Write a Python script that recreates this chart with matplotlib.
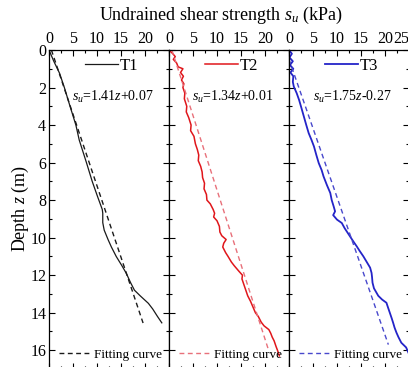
import matplotlib
matplotlib.use('Agg')
import matplotlib.pyplot as plt
import matplotlib.ticker as ticker
from matplotlib.lines import Line2D

plt.rcParams['font.family'] = ['Liberation Serif', 'DejaVu Serif']
plt.rcParams['mathtext.fontset'] = 'custom'
plt.rcParams['mathtext.rm'] = 'Liberation Serif'
plt.rcParams['mathtext.it'] = 'Liberation Serif:italic'

# measured profiles, depth z (m) vs undrained shear strength su (kPa)
t1_z = [0.0, 0.6, 1.24, 2.0, 2.93, 4.0, 4.8, 6.0, 7.0, 7.8, 8.5, 8.7, 9.2, 9.6, 10.1,
        10.5, 11.0, 11.5, 11.9, 12.4, 12.8, 13.1, 13.5, 13.8, 14.2, 14.54]
t1_su = [0.0, 1.0, 2.2, 3.2, 4.3, 5.6, 6.3, 7.8, 9.0, 10.1, 11.1, 11.2, 11.2, 11.5, 12.3,
         13.0, 14.0, 15.2, 16.1, 17.0, 17.8, 19.0, 20.7, 21.6, 22.6, 23.5]

t2_z = [0.0, 0.2, 0.35, 0.5, 0.7, 0.9, 1.0, 1.2, 1.4, 1.6, 1.8, 2.0, 2.3, 2.6, 3.0, 3.3,
        3.6, 4.0, 4.3, 4.6, 5.0, 5.3, 5.6, 5.9, 6.2, 6.5, 6.8, 7.1, 7.4, 7.7, 8.0, 8.2,
        8.5, 8.7, 8.9, 9.1, 9.4, 9.7, 9.9, 10.1, 10.3, 10.5, 10.8, 11.0, 11.3, 11.5, 11.8,
        12.0, 12.2, 12.5, 12.8, 13.1, 13.4, 13.7, 14.0, 14.2, 14.5, 14.7, 14.9, 15.1,
        15.3, 15.5, 15.8, 16.0, 16.3]
t2_su = [0.0, 0.8, 1.3, 0.9, 1.6, 1.9, 2.9, 2.4, 3.0, 2.6, 3.1, 2.9, 3.3, 3.2, 3.7, 3.6,
         4.1, 4.6, 4.5, 5.2, 5.5, 5.9, 6.2, 6.1, 6.6, 6.9, 7.0, 7.4, 7.3, 7.8, 7.9, 8.6,
         9.2, 9.5, 9.3, 10.0, 10.5, 10.6, 11.0, 11.9, 11.4, 11.2, 11.8, 12.3, 13.0, 13.6,
         14.6, 15.3, 15.2, 15.6, 16.0, 16.4, 17.0, 17.5, 18.0, 18.6, 19.2, 19.8, 20.8,
         21.2, 21.5, 21.9, 22.3, 22.6, 23.0]

t3_z = [0.0, 0.2, 0.4, 0.6, 0.8, 1.0, 1.2, 1.4, 1.7, 1.95, 2.3, 2.66, 3.1, 3.55, 4.0,
        4.43, 4.8, 5.14, 5.6, 6.03, 6.4, 6.74, 7.2, 7.62, 8.0, 8.33, 8.6, 8.8, 9.04, 9.22,
        9.5, 9.93, 10.2, 10.46, 10.7, 11.0, 11.3, 11.6, 11.88, 12.1, 12.4, 12.7, 13.1,
        13.3, 13.47, 13.7, 14.0, 14.3, 14.54, 14.8, 15.07, 15.3, 15.6, 15.85, 16.2]
t3_su = [0.0, 0.6, 0.1, 0.8, 0.2, 0.9, 0.3, 0.9, 0.8, 1.0, 1.6, 2.1, 2.6, 3.1, 3.6,
         4.1, 4.7, 5.2, 5.7, 6.2, 6.8, 7.2, 7.9, 8.6, 8.9, 9.3, 9.6, 9.2, 10.0, 11.0,
         11.6, 12.7, 13.4, 14.1, 14.7, 15.5, 16.2, 16.9, 17.2, 17.3, 17.4, 17.7, 18.6,
         19.4, 20.3, 20.6, 21.0, 21.4, 21.7, 22.0, 22.4, 22.8, 23.4, 24.4, 25.0]

# fitting lines as drawn (end points)
fit_z = [[0.0, 14.55], [0.0, 15.96], [0.5, 15.7]]
fit_su = [[0.5, 19.6], [0.6, 20.7], [0.0, 20.7]]

names = ['T1', 'T2', 'T3']
equations = ['$s_u$=1.41$z$+0.07', '$s_u$=1.34$z$+0.01', '$s_u$=1.75$z$-0.27']
line_colors = ['#1a1a1a', '#e0161b', '#2424c8']
fit_colors = ['#1a1a1a', '#e8707a', '#4848cc']
line_widths = [0.9, 1.1, 1.3]
profiles_z = [t1_z, t2_z, t3_z]
profiles_su = [t1_su, t2_su, t3_su]

W, H = 408, 367
fig = plt.figure(figsize=(W / 100, H / 100), dpi=100)

left0 = 49
pw = 120
top = 50
bot = -2
dash = (0, (3.5, 2.5))

for i in range(3):
    ax = fig.add_axes([(left0 + i * pw) / W, bot / H, pw / W, (H - top - bot) / H])
    ax.plot(profiles_su[i], profiles_z[i], color=line_colors[i], lw=line_widths[i])
    ax.plot(fit_su[i], fit_z[i], color=fit_colors[i], lw=1.0, ls=dash)
    ax.set_xlim(0, 25)
    ax.set_ylim(17, 0)

    ax.xaxis.set_major_locator(ticker.MultipleLocator(5))
    ax.xaxis.set_minor_locator(ticker.MultipleLocator(2.5))
    ax.yaxis.set_major_locator(ticker.MultipleLocator(2))
    ax.yaxis.set_minor_locator(ticker.MultipleLocator(1))
    ax.tick_params(which='both', direction='in', top=True, bottom=True, left=True, right=True,
                   labeltop=True, labelbottom=False, labelleft=(i == 0), labelsize=11.5,
                   width=0.8, pad=2)
    ax.tick_params(which='major', length=4)
    ax.tick_params(which='minor', length=2)
    for sp in ax.spines.values():
        sp.set_linewidth(0.9)

    if i < 2:
        ax.set_xticks([0, 5, 10, 15, 20])
    else:
        ax.set_xticks([0, 5, 10, 15, 20, 25])
        ax.set_xticklabels(['0', '5', '10', '15', '20', '25'])
        ax.get_xticklabels()[-1].set_ha('right')

    h1 = Line2D([], [], color=line_colors[i], lw=line_widths[i])
    leg1 = ax.legend([h1], [names[i]], loc='upper left', bbox_to_anchor=(0.30, 0.975),
                     frameon=False, fontsize=12, handlelength=2.0, handletextpad=0.1,
                     borderpad=0, borderaxespad=0)
    ax.add_artist(leg1)
    ax.text(0.53, 0.853, equations[i], transform=ax.transAxes, ha='center', va='center',
            fontsize=10)

    h2 = Line2D([], [], color=fit_colors[i], lw=1.0, ls=dash)
    ax.legend([h2], ['Fitting curve'], loc='lower left', bbox_to_anchor=(0.08, 0.025),
              frameon=False, fontsize=9.5, handlelength=2.4, handletextpad=0.25,
              borderpad=0, borderaxespad=0)

fig.text(0.542, 0.958, 'Undrained shear strength $s_u$ (kPa)', ha='center', va='center',
         fontsize=13)
fig.text(0.05, 0.433, 'Depth $z$ (m)', ha='center', va='center', rotation=90,
         fontsize=13)

fig.savefig('out.png', dpi=100)
